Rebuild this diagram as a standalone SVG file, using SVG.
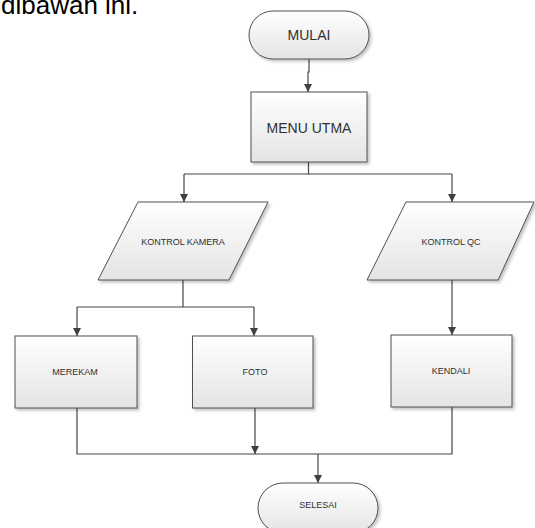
<svg xmlns="http://www.w3.org/2000/svg" width="535" height="528" viewBox="0 0 535 528">
<defs>
<linearGradient id="g" x1="0" y1="0" x2="0" y2="1">
<stop offset="0" stop-color="#ffffff"/>
<stop offset="1" stop-color="#e4e4e4"/>
</linearGradient>
<filter id="sh" x="-10%" y="-10%" width="130%" height="140%">
<feDropShadow dx="2" dy="2" stdDeviation="1.5" flood-color="#000" flood-opacity="0.25"/>
</filter>
<marker id="ar" viewBox="0 0 10 10" refX="10" refY="5" markerWidth="8" markerHeight="8" markerUnits="userSpaceOnUse" orient="auto">
<path d="M0,0 L10,5 L0,10 z" fill="#404040"/>
</marker>
</defs>
<style>
.s{fill:url(#g);stroke:#505050;stroke-width:1;filter:url(#sh)}
.c{fill:none;stroke:#454545;stroke-width:1.2}
.t{font-family:"Liberation Sans",Arial,sans-serif;fill:#303030;text-anchor:middle;dominant-baseline:central}
.big{font-size:14px}
.sm{font-size:9px}
</style>
<rect width="535" height="528" fill="#ffffff"/>
<text x="1" y="13.5" font-family="'Liberation Sans',Arial,sans-serif" font-size="26" fill="#000">dibawah ini.</text>
<g id="connectors">
<path class="c" d="M309 59 V72 H308 V92" marker-end="url(#ar)"/>
<path class="c" d="M308.5 162 V174"/>
<path class="c" d="M184 174 H452"/>
<path class="c" d="M184 174 V202" marker-end="url(#ar)"/>
<path class="c" d="M452 174 V202" marker-end="url(#ar)"/>
<path class="c" d="M183 280 V307"/>
<path class="c" d="M77 307 H254"/>
<path class="c" d="M77 307 V336" marker-end="url(#ar)"/>
<path class="c" d="M254 307 V336" marker-end="url(#ar)"/>
<path class="c" d="M452 280 V335" marker-end="url(#ar)"/>
<path class="c" d="M77 408 V454 H452 V407"/>
<path class="c" d="M255 408 V454" marker-end="url(#ar)"/>
<path class="c" d="M318 454 V483" marker-end="url(#ar)"/>
</g>
<g id="mulai">
<rect class="s" x="249" y="11" width="120" height="48" rx="24"/>
<text class="t big" x="309" y="35">MULAI</text>
</g>
<g id="menu">
<rect class="s" x="251" y="92" width="116" height="70"/>
<text class="t big" x="309" y="128">MENU UTMA</text>
</g>
<g id="kontrol-kamera">
<polygon class="s" points="138,202 268,202 229,280 98,280"/>
<text class="t sm" x="183" y="242">KONTROL KAMERA</text>
</g>
<g id="kontrol-qc">
<polygon class="s" points="406,202 534,202 498,280 367,280"/>
<text class="t sm" x="451" y="242">KONTROL QC</text>
</g>
<g id="merekam">
<rect class="s" x="15" y="336" width="122" height="72"/>
<text class="t sm" x="75" y="371.5">MEREKAM</text>
</g>
<g id="foto">
<rect class="s" x="192.5" y="336" width="120.5" height="72"/>
<text class="t sm" x="255" y="371.5">FOTO</text>
</g>
<g id="kendali">
<rect class="s" x="391" y="335" width="121" height="72"/>
<text class="t sm" x="451" y="370.5">KENDALI</text>
</g>
<g id="selesai">
<rect class="s" x="258" y="483" width="120" height="50" rx="25"/>
<text class="t sm" x="318" y="505">SELESAI</text>
</g>
</svg>
